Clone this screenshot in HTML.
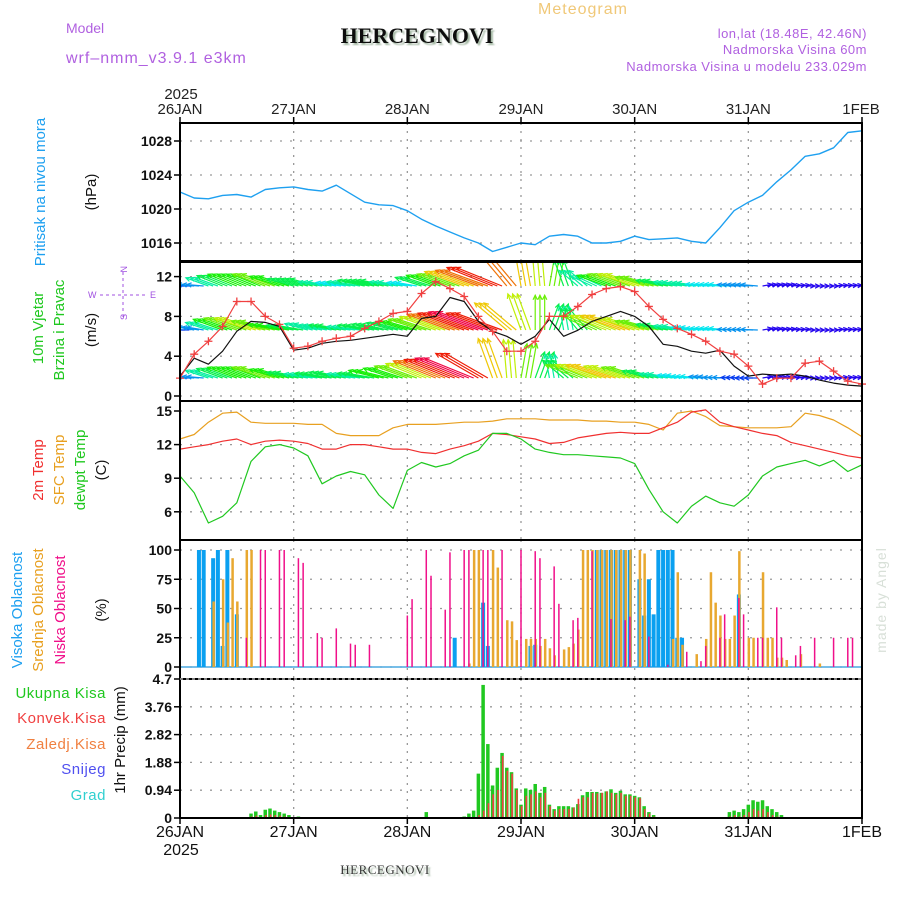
<!DOCTYPE html>
<html><head><meta charset="utf-8"><style>
html,body{margin:0;padding:0;background:#fff;}
svg{display:block;font-family:"Liberation Sans",sans-serif;}
</style></head><body>
<svg id="c" width="900" height="900" viewBox="0 0 900 900" xmlns="http://www.w3.org/2000/svg">
<defs><filter id="sh" x="-5%" y="-20%" width="115%" height="160%"><feDropShadow dx="2" dy="2" stdDeviation="0.8" flood-color="#9ab09a" flood-opacity="0.9"/></filter>
<clipPath id="windclip"><rect x="181" y="263" width="680" height="137"/></clipPath></defs>
<text x="583" y="14" font-size="16" fill="#f0c878" text-anchor="middle" letter-spacing="1">Meteogram</text>
<text x="66" y="33" font-size="14" fill="#b060e0">Model</text>
<text x="66" y="63" font-size="16" fill="#b060e0" letter-spacing="1">wrf–nmm_v3.9.1 e3km</text>
<text x="417" y="43" font-size="22" font-weight="bold" font-family="Liberation Serif,serif" fill="#111" text-anchor="middle" filter="url(#sh)">HERCEGNOVI</text>
<text x="867" y="38" font-size="13" fill="#b060e0" text-anchor="end" letter-spacing="0.5">lon,lat (18.48E, 42.46N)</text>
<text x="867" y="54" font-size="13" fill="#b060e0" text-anchor="end" letter-spacing="0.5">Nadmorska Visina 60m</text>
<text x="867" y="71" font-size="13" fill="#b060e0" text-anchor="end" letter-spacing="0.5">Nadmorska Visina u modelu 233.029m</text>
<text x="181" y="99" font-size="15" fill="#222" text-anchor="middle">2025</text>
<g id="topdays"></g>
<g id="plot"></g>
<text x="385" y="874" font-size="13" font-family="Liberation Serif,serif" fill="#333" text-anchor="middle" filter="url(#sh)" letter-spacing="0.5">HERCEGNOVI</text>
<text transform="translate(886,600) rotate(-90)" font-size="14" fill="#d8e0d8" text-anchor="middle" letter-spacing="1">made by Angel</text>
</svg>
<script>
// ---------- DATA ----------
const dayLabels = ["26JAN","27JAN","28JAN","29JAN","30JAN","31JAN","1FEB"];
// 3-hourly series (49 points, from 26JAN 00 to 1FEB 00)
const pressure = [1022,1021.3,1021.2,1021.6,1021.7,1021.4,1022.3,1022.5,1022.6,1022.3,1022.1,1022.8,1021.8,1020.8,1020.5,1020.4,1019.8,1018.8,1018,1017.3,1016.6,1016,1015,1015.5,1016,1015.8,1016.8,1017,1016.8,1016,1016,1016.2,1016.8,1016.4,1016.5,1016.6,1016.2,1016,1017.8,1019.8,1020.8,1021.6,1023.2,1024.6,1026.2,1026.5,1027.2,1029,1029.2];
const windSpeed = [2,3.8,3.2,4.5,6.5,7.5,7.4,7,4.6,4.8,5.3,5.5,5.6,5.8,6,6.2,6,7.8,8,9.9,9.5,7.5,6.5,6,5.2,6,7.7,6,6.6,7.5,8,8.5,8,7,5.2,5,4.5,4.3,4.6,3,2,2.2,2.1,2.2,2,1.6,1.3,1.1,1];
const gustSpeed = [1.8,4.2,5.5,7,9.5,9.5,8,7.2,4.8,5,5.5,5.8,6,6.8,7.5,8.3,8.5,10.3,11.5,10.8,10,8,6.5,4.5,4.5,5.5,8,8,9,10.2,10.8,11,10.5,9,7.7,6.8,6.2,5.5,4.5,4.2,3,1.2,1.8,1.8,3.3,3.5,2.5,1.5,1.2];
const temp2m = [11.6,11.8,12,12.3,12.5,12,12.3,12.4,12.3,12.1,11.6,11.6,12,12,11.8,11.6,11.6,11.3,11.2,11.6,11.9,12.3,13,12.9,12.7,12.5,12.1,12.2,12.6,12.8,13,13.1,13,13,13.5,14,14.9,15.1,14,13.6,13.3,13,12.8,12.2,11.9,11.6,11.3,11,10.8];
const tempSfc = [12.5,12.9,14,14.8,14.9,14,13.9,13.9,13.9,13.8,13.8,13,12.8,12.8,12.8,13.5,13.8,13.8,13.8,13.9,14,14,14.1,14.3,14.3,14.3,14.2,14.2,14.2,14.1,14.1,14,14,13.8,13.3,14.8,15,14.5,13.7,13.6,13.5,13.5,13.5,13.6,14.8,14.6,14.2,13.5,12.7];
const tempDew = [9.2,7.7,5,5.6,6.8,10.5,11.8,12,11.7,11,8.5,9.2,9.6,9.3,7.5,6.3,9.7,10.4,10,10.3,11,11.5,13,13,12.5,11.6,11.3,11.1,11.1,11,10.9,10.8,10.3,8,6,5,6.5,7.4,6.8,6.5,7.5,9.2,10,10.3,10.6,10.1,10.6,9.6,10.2];
// wind arrows at three levels: speed (colour/length) and direction the arrow points (deg, 0=east, 90=north)
const arrowSpdTop = [2,3,5,6,7,7,8,7,6,6,5,4,5,6,6,5,4,6,7,8,10,11,12,11,10,9,8,6,5,5,7,8,9,8,6,5,5,4,4,3,3,1,1,1,1,1,1,1,1];
const arrowDirTop = [180,175,160,158,158,158,160,162,165,165,170,170,170,168,168,170,170,162,160,160,160,160,158,130,100,95,80,110,140,155,160,160,162,165,168,170,172,175,175,175,175,10,10,5,0,0,5,5,0];
const arrowSpdMid = [2,3,5,7,8,9,8,7,6,5,5,6,5,6,6,6,7,8,9,11,12,13,12,10,9,8,6,5,6,8,9,10,9,8,6,5,4,4,4,3,3,1,1,1,1,1,1,1,1];
const arrowDirMid = [180,170,162,160,160,162,165,170,170,165,168,170,172,170,168,165,164,162,160,160,160,160,160,140,110,90,70,100,130,155,158,160,162,165,168,170,172,175,175,178,178,10,8,5,0,0,5,5,0];
const arrowSpdBot = [2,3,5,6,7,7,8,7,6,5,6,6,5,6,7,7,8,9,11,12,13,12,10,9,8,6,5,6,8,9,10,9,8,6,5,4,4,3,3,2,2,1,1,1,1,1,1,1,1];
const arrowDirBot = [180,175,162,160,160,160,162,164,168,170,170,168,170,170,166,162,160,158,158,158,158,150,110,95,80,70,100,140,158,160,162,162,162,165,170,172,175,175,178,178,180,10,8,5,0,0,5,5,0];
// cloud cover (hour index from 26JAN 00, percent)
const cloudHighHours = [4,5,7,8,9,10,12,58,64,65,74,75,88,89,90,91,92,93,94,95,97,98,99,100,101,102,103,104,105,106,118];
const cloudHighVals  = [100,100,93,100,18,100,45,25,55,18,18,19,100,100,100,100,100,100,100,100,75,44,75,45,100,100,100,100,25,25,62];
const cloudMidHours = [7,9,10,11,12,14,15,61,62,63,66,67,69,70,71,73,74,75,76,77,78,79,81,82,83,84,85,86,87,88,89,90,91,92,93,94,95,97,98,104,105,106,109,111,112,113,114,115,116,117,118,120,121,123,124,125,126,127,128,131,135];
const cloudMidVals  = [56,75,38,93,56,100,100,3,100,100,100,85,40,39,23,24,24,24,18,24,16,10,15,17,20,32,100,100,100,100,100,100,100,100,100,100,100,100,97,24,81,19,11,24,81,55,44,24,24,44,99,25,25,81,25,25,8,8,6,11,3];
const cloudLowHours = [14,17,18,21,22,25,26,29,30,33,36,37,40,48,49,52,53,56,57,60,61,64,65,68,72,75,76,79,80,83,84,87,91,94,95,99,103,107,110,111,114,115,118,119,122,123,126,127,130,131,134,138,141,142];
const cloudLowVals  = [25,100,100,100,100,93,89,29,25,33,20,19,19,44,58,100,78,49,98,100,100,100,100,100,100,99,93,86,54,40,42,99,41,40,43,26,2,13,5,18,25,45,59,45,25,25,51,25,10,18,25,25,25,25];
// 1-hour precipitation (mm)
const precipHours = [15,16,17,18,19,20,21,22,23,25,28,52,53,60,61,62,63,64,65,66,67,68,69,70,71,72,73,74,75,76,77,78,79,80,81,82,83,84,85,86,87,88,89,90,91,92,93,94,95,96,97,98,99,100,116,117,118,119,120,121,122,123,124,125,126,127];
const precipTotal = [0.15,0.22,0.1,0.28,0.32,0.25,0.2,0.15,0.1,0.05,0.03,0.2,0.03,0.05,0.15,0.25,1.5,4.5,2.5,1.1,1.7,2.2,1.7,1.55,1.0,0.45,1.0,0.95,1.15,0.85,1.05,0.45,0.3,0.4,0.4,0.4,0.36,0.47,0.77,0.88,0.88,0.88,0.85,0.9,0.97,0.85,0.92,0.8,0.8,0.75,0.7,0.4,0.2,0.1,0.2,0.25,0.2,0.3,0.45,0.6,0.55,0.6,0.4,0.3,0.2,0.1];
const precipConv  = [0.05,0.08,0.03,0.1,0.12,0.1,0.08,0.05,0.03,0,0,0,0,0,0,0,0.1,0.25,0.5,0.8,0.95,2.1,1.6,1.5,0.95,0.4,0.75,0.8,0.9,0.7,0.85,0.4,0.25,0.3,0.3,0.3,0.35,0.65,0.7,0.7,0.85,0.83,0.85,0.9,0.85,0.8,0.85,0.75,0.75,0.7,0.68,0.3,0.15,0.05,0.05,0.1,0.05,0.1,0.2,0.3,0.25,0.3,0.2,0.1,0.05,0.02];

// ---------- SCALES ----------
const X0=180, X1=862, HRS=144;
const xH = h => X0 + h*(X1-X0)/HRS;
const xI = i => xH(i*3);
const yP = p => 141 + (1028-p)*8.5;
const yW = s => 396 - s*9.95;
const yT = t => 411 + (15-t)*11.2;
const yC = c => 667 - c*1.17;
const yR = r => 818 - r*(139/4.7);
const NS="http://www.w3.org/2000/svg";
const plot=document.getElementById('plot');
function mk(tag,attrs,parent){const e=document.createElementNS(NS,tag);for(const k in attrs)e.setAttribute(k,attrs[k]);(parent||plot).appendChild(e);return e;}

// top day labels
const td=document.getElementById('topdays');
dayLabels.forEach((d,i)=>{
  const t=mk('text',{x:xH(i*24)+(i==6?-1:0),y:114,'font-size':15,fill:'#222','text-anchor':'middle'},td);
  
  
  t.textContent=d;
  const b=mk('text',{x:xH(i*24),y:837,'font-size':16,fill:'#111','text-anchor':'middle'},td);
  
  
  b.textContent=d;
});
const by=mk('text',{x:181,y:855,'font-size':16,fill:'#111','text-anchor':'middle'},td);


by.textContent='2025';

// panels
const panels=[[123,261],[262,401],[401,540],[540,679],[679,818]];
function grid(yTop,yBot,ticks,yf,fmt,name){
  const g=mk('g',{});
  
  
  ticks.forEach(v=>{
    const y=yf(v);
    mk('line',{x1:X0,x2:X1,y1:y,y2:y,stroke:'#999','stroke-width':1.3,'stroke-dasharray':'2,8'},g);
    mk('line',{x1:X0-6,x2:X0,y1:y,y2:y,stroke:'#000','stroke-width':1.5},g);
    const t=mk('text',{x:X0-8,y:y+5,'font-size':14,'font-weight':'bold',fill:'#111','text-anchor':'end'},g);
    
    
    t.textContent=fmt(v);
  });
  for(let d=1;d<6;d++){mk('line',{x1:xH(d*24),x2:xH(d*24),y1:yTop,y2:yBot,stroke:'#999','stroke-width':1.3,'stroke-dasharray':'2,6'},g);}
}
grid(123,261,[1016,1020,1024,1028],yP,v=>v,'pressure');
grid(262,401,[0,4,8,12],yW,v=>v,'wind');
grid(401,540,[6,9,12,15],yT,v=>v,'temperature');
grid(540,679,[0,25,50,75,100],yC,v=>v,'cloud');
grid(679,818,[0,0.94,1.88,2.82,3.76,4.7],yR,v=>v,'precip');

function line(arr,xf,yf,color,w,name){
  const pts=arr.map((v,i)=>xf(i).toFixed(1)+','+yf(v).toFixed(1)).join(' ');
  const p=mk('polyline',{points:pts,fill:'none',stroke:color,'stroke-width':w,'stroke-linejoin':'round'});
  
  
  return p;
}
// pressure
line(pressure,xI,yP,'#1ea0f0',1.4,'pressure-line');

// wind arrows
const wg=mk('g',{'clip-path':'url(#windclip)'});
function hue(s){let h=270-s*22;if(h<0)h+=360;return 'hsl('+h+',95%,48%)';}
function arrows(spd,dir,rowY,name){
  const g=mk('g',{},wg);
  
  
  spd.forEach((s,i)=>{
    for(let k=0;k<3;k++){
      if(i==spd.length-1&&k>0)break;
      const x=xH(i*3+k);
      const a=dir[i]*Math.PI/180, L=6+s*3.6;
      const x2=x+L*Math.cos(a), y2=rowY-L*Math.sin(a);
      const c=hue(s);
      mk('line',{x1:x,y1:rowY,x2:x2,y2:y2,stroke:c,'stroke-width':1.2},g);
      const ha=0.45, hl=5;
      mk('polyline',{points:(x2-hl*Math.cos(a-ha))+','+(y2+hl*Math.sin(a-ha))+' '+x2+','+y2+' '+(x2-hl*Math.cos(a+ha))+','+(y2+hl*Math.sin(a+ha)),fill:'none',stroke:c,'stroke-width':1.2},g);
    }
  });
}
arrows(arrowSpdTop,arrowDirTop,286,'wind-arrows-upper');
arrows(arrowSpdMid,arrowDirMid,330,'wind-arrows-middle');
arrows(arrowSpdBot,arrowDirBot,378,'wind-arrows-lower');
line(windSpeed,xI,yW,'#111',1.2,'wind-speed-line');
line(gustSpeed,xI,yW,'#f04040',1.2,'gust-line');
gustSpeed.forEach((v,i)=>{
  const x=xI(i),y=yW(v);
  const m=mk('path',{d:`M${x-4},${y}H${x+4}M${x},${y-4}V${y+4}`,stroke:'#f04040','stroke-width':1.3});
  
  
});

// temperatures
line(tempSfc,xI,yT,'#e8a020',1.2,'sfc-temp-line');
line(temp2m,xI,yT,'#f03030',1.2,'2m-temp-line');
line(tempDew,xI,yT,'#20c820',1.2,'dewpoint-line');

// cloud bars
function bars(hours,vals,yf,color,w,off,name){
  hours.forEach((h,i)=>{
    const x=xH(h)+off, y=yf(vals[i]), y0=yf(0);
    const r=mk('rect',{x:x-w/2,y:Math.min(y,y0),width:w,height:Math.abs(y0-y),fill:color});
    
    
  });
}
mk('line',{x1:X0,x2:X1,y1:yC(0),y2:yC(0),stroke:'#4aa8e0','stroke-width':1.5});
bars(cloudHighHours,cloudHighVals,yC,'#0aa0f0',4,0,'high-cloud-bar');
bars(cloudMidHours,cloudMidVals,yC,'#e8a830',2.5,0.5,'mid-cloud-bar');
bars(cloudLowHours,cloudLowVals,yC,'#f0108a',1.5,0,'low-cloud-bar');
// precip
bars(precipHours,precipTotal,yR,'#20c820',3.5,0,'total-precip-bar');
bars(precipHours,precipConv,yR,'#f04040',1.6,0.6,'convective-precip-bar');

// panel frames
panels.forEach((p,i)=>{
  const r=mk('rect',{x:X0,y:p[0],width:X1-X0,height:p[1]-p[0],fill:'none',stroke:'#000','stroke-width':2});
  
  
});
mk('line',{x1:X0,x2:X1,y1:679,y2:679,stroke:'#fff','stroke-width':1,'stroke-dasharray':'3,3'});
for(let d=0;d<=6;d++){mk('line',{x1:xH(d*24),x2:xH(d*24),y1:818,y2:824,stroke:'#000','stroke-width':1.5});mk('line',{x1:xH(d*24),x2:xH(d*24),y1:117,y2:123,stroke:'#000','stroke-width':1.5});}

// y-axis titles
function vt(x,y,txt,color,size,name){
  const t=mk('text',{transform:`translate(${x},${y}) rotate(-90)`,'font-size':size,fill:color,'text-anchor':'middle'});
  
  
  t.textContent=txt;
}
vt(45,192,'Pritisak na nivou mora','#1ea0f0',15,'pressure-title');
vt(96,192,'(hPa)','#111',15,'pressure-unit');
vt(43,328,'10m Vjetar','#20c820',15,'wind-title-1');
vt(64,330,'Brzina i Pravac','#20c820',15,'wind-title-2');
vt(96,330,'(m/s)','#111',15,'wind-unit');
const cp=mk('g',{});


mk('text',{x:88,y:298,'font-size':9,fill:'#a050e0'},cp).textContent='W';
mk('text',{x:150,y:298,'font-size':9,fill:'#a050e0'},cp).textContent='E';
mk('text',{transform:'translate(127,266) rotate(-90)','font-size':9,fill:'#a050e0','text-anchor':'end'},cp).textContent='N';
mk('text',{transform:'translate(127,320) rotate(-90)','font-size':9,fill:'#a050e0'},cp).textContent='S';
mk('path',{d:'M100,295H145M123,272V318',stroke:'#a050e0','stroke-width':1,'stroke-dasharray':'3,3'},cp);
vt(43,470,'2m Temp','#f03030',15,'temp2m-title');
vt(64,470,'SFC Temp','#e8a020',15,'sfc-temp-title');
vt(85,470,'dewpt Temp','#20c820',15,'dewpoint-title');
vt(106,470,'(C)','#111',15,'temp-unit');
vt(22,610,'Visoka Oblacnost','#1ea0f0',15,'high-cloud-title');
vt(43,610,'Srednja Oblacnost','#e8a020',15,'mid-cloud-title');
vt(65,610,'Niska Oblacnost','#f0108a',15,'low-cloud-title');
vt(106,610,'(%)','#111',15,'cloud-unit');
vt(125,740,'1hr Precip (mm)','#111',15,'precip-title');
[['Ukupna Kisa','#20c820',698],['Konvek.Kisa','#f04040',723],['Zaledj.Kisa','#f08040',749],['Snijeg','#5050f0',774],['Grad','#30d0d0',800]].forEach(l=>{
  const t=mk('text',{x:106,y:l[2],'font-size':15,fill:l[1],'text-anchor':'end','letter-spacing':'0.5'});
  
  
  t.textContent=l[0];
});
</script>
</body></html>
